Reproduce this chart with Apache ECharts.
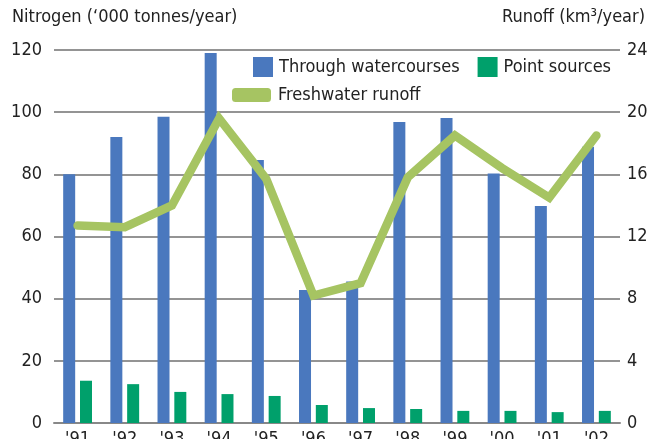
<!DOCTYPE html>
<html>
<head>
<meta charset="utf-8">
<script src="https://cdn.jsdelivr.net/npm/echarts@6/dist/echarts.min.js"></script>
<style>
  html, body { margin: 0; padding: 0; background: #fff; }
  #chart { width: 648px; height: 439px; }
</style>
</head>
<body>
<div id="chart"></div>
<script>
// data
var years = ["'91", "'92", "'93", "'94", "'95", "'96", "'97", "'98", "'99", "'00", "'01", "'02"];
var watercourses = [80, 92, 98.5, 119, 84.6, 42.8, 45.5, 96.8, 98.1, 80.3, 69.8, 88.9];
var pointSources = [13.6, 12.5, 10.0, 9.3, 8.7, 5.8, 4.8, 4.5, 3.9, 3.9, 3.5, 3.9];
var runoff = [12.7, 12.6, 14.0, 19.6, 15.7, 8.2, 9.0, 15.8, 18.5, 16.4, 14.5, 18.5];

var FONT = 'DejaVu Sans Condensed';
var TXT = '#222';

var myChart = echarts.init(document.getElementById('chart'));

var option = {
    animation: false,
    textStyle: { fontFamily: FONT },
    title: [
        {
            text: 'Nitrogen (\u2018000 tonnes/year)',
            left: 12, top: 8, padding: 0,
            textStyle: { fontFamily: FONT, fontSize: 18, fontWeight: 'normal', color: TXT }
        },
        {
            text: 'Runoff (km\u00b3/year)',
            right: 3, top: 8, padding: 0,
            textStyle: { fontFamily: FONT, fontSize: 18, fontWeight: 'normal', color: TXT }
        }
    ],
    legend: [
        {
            left: 248, top: 52,
            itemWidth: 20, itemHeight: 20,
            itemGap: 18,
            icon: 'rect',
            data: ['Through watercourses', 'Point sources'],
            textStyle: { fontFamily: FONT, fontSize: 18, color: TXT, padding: [0, 0, 0, 1] }
        },
        {
            left: 227, top: 81,
            itemWidth: 39, itemHeight: 14,
            data: [{ name: 'Freshwater runoff', icon: 'roundRect' }],
            textStyle: { fontFamily: FONT, fontSize: 18, color: TXT, padding: [0, 0, 0, 2] }
        }
    ],
    grid: {
        left: 54,
        right: 28,
        top: 50,
        bottom: 16,
        outerBoundsMode: 'none',
        containLabel: false
    },
    xAxis: [
        {
            type: 'category',
            data: years,
            axisTick: { show: false },
            axisLine: { lineStyle: { color: '#888', width: 2 } },
            axisLabel: { color: TXT, fontSize: 18, margin: 7 }
        }
    ],
    yAxis: [
        {
            type: 'value',
            min: 0, max: 120, interval: 20,
            axisLine: { show: false },
            axisTick: { show: false },
            axisLabel: { color: TXT, fontSize: 18, margin: 12 },
            splitLine: { lineStyle: { color: '#707070', width: 1.5 } }
        },
        {
            type: 'value',
            min: 0, max: 24, interval: 4,
            position: 'right',
            axisLine: { show: false },
            axisTick: { show: false },
            axisLabel: { color: TXT, fontSize: 18, margin: 7 },
            splitLine: { show: false }
        }
    ],
    series: [
        {
            name: 'Through watercourses',
            type: 'bar',
            barWidth: 12,
            barGap: '40%',
            itemStyle: { color: '#4a78be' },
            data: watercourses
        },
        {
            name: 'Point sources',
            type: 'bar',
            barWidth: 12,
            itemStyle: { color: '#00a06b' },
            data: pointSources
        },
        {
            name: 'Freshwater runoff',
            type: 'line',
            yAxisIndex: 1,
            symbol: 'none',
            lineStyle: { color: '#a6c462', width: 8.5, cap: 'round', join: 'miter' },
            itemStyle: { color: '#a6c462' },
            data: runoff
        }
    ]
};

myChart.setOption(option, true);
</script>
</body>
</html>
